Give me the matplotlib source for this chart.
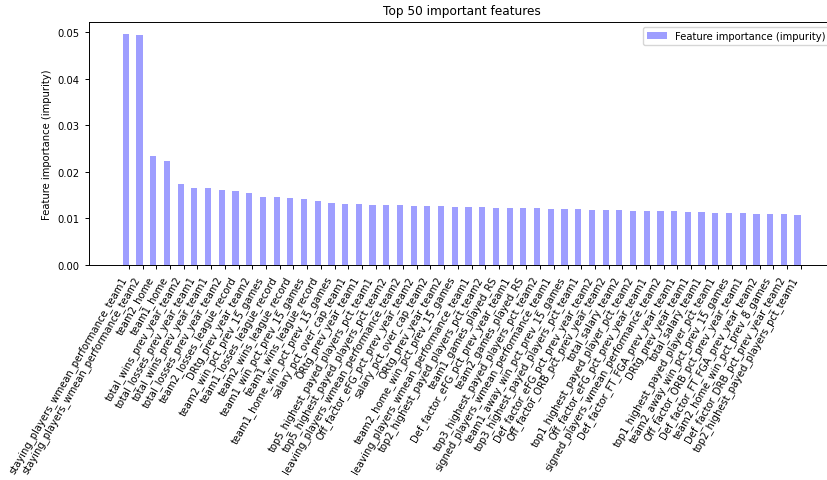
import numpy as np
import matplotlib
matplotlib.use('Agg')
import matplotlib.pyplot as plt

features = [
    'staying_players_wmean_performance_team1',
    'staying_players_wmean_performance_team2',
    'team2_home',
    'team1_home',
    'total_wins_prev_year_team2',
    'total_losses_prev_year_team1',
    'total_wins_prev_year_team1',
    'total_losses_prev_year_team2',
    'team2_losses_league_record',
    'DRtg_prev_year_team2',
    'team2_win_pct_prev_15_games',
    'team1_losses_league_record',
    'team2_wins_league_record',
    'team1_win_pct_prev_15_games',
    'team1_wins_league_record',
    'team1_home_win_pct_prev_15_games',
    'salary_pct_over_cap_team1',
    'ORtg_prev_year_team1',
    'top5_highest_payed_players_pct_team1',
    'top5_highest_payed_players_pct_team2',
    'leaving_players_wmean_performance_team2',
    'Off_factor_eFG_pct_prev_year_team2',
    'salary_pct_over_cap_team2',
    'ORtg_prev_year_team2',
    'team2_home_win_pct_prev_15_games',
    'leaving_players_wmean_performance_team1',
    'top2_highest_payed_players_pct_team2',
    'team1_games_played_RS',
    'Def_factor_eFG_pct_prev_year_team1',
    'team2_games_played_RS',
    'top3_highest_payed_players_pct_team2',
    'signed_players_wmean_performance_team1',
    'team1_away_win_pct_prev_15_games',
    'top3_highest_payed_players_pct_team1',
    'Def_factor_eFG_pct_prev_year_team2',
    'Off_factor_ORB_pct_prev_year_team2',
    'total_salary_team2',
    'top1_highest_payed_player_pct_team2',
    'Off_factor_eFG_pct_prev_year_team1',
    'signed_players_wmean_performance_team2',
    'Def_factor_FT_FGA_prev_year_team1',
    'DRtg_prev_year_team1',
    'total_salary_team1',
    'top1_highest_payed_player_pct_team1',
    'team2_away_win_pct_prev_15_games',
    'Off_factor_ORB_pct_prev_year_team1',
    'Def_factor_FT_FGA_prev_year_team2',
    'team2_home_win_pct_prev_8_games',
    'Def_factor_DRB_pct_prev_year_team2',
    'top2_highest_payed_players_pct_team1',
]

importances = [
    0.0497, 0.0495, 0.0235, 0.0224, 0.0173, 0.01646, 0.01646, 0.0162,
    0.0158, 0.0154, 0.0147, 0.01453, 0.0143, 0.0141, 0.01367, 0.0133,
    0.0131, 0.0131, 0.01288, 0.01288, 0.01288, 0.01266, 0.01266, 0.01266,
    0.01245, 0.01245, 0.01245, 0.01223, 0.01223, 0.01223, 0.01223, 0.0120,
    0.0120, 0.0120, 0.0118, 0.0118, 0.0118, 0.01159, 0.01159, 0.01159,
    0.01159, 0.01137, 0.01137, 0.01116, 0.01116, 0.01116, 0.01094, 0.01094,
    0.01094, 0.01073,
]

plt.rcParams['font.size'] = 7.2
plt.rcParams['axes.linewidth'] = 0.7
plt.rcParams['xtick.major.width'] = 0.7
plt.rcParams['ytick.major.width'] = 0.7
plt.rcParams['xtick.major.size'] = 3
plt.rcParams['ytick.major.size'] = 3

fig = plt.figure(figsize=(8.27, 4.81), dpi=100)
ax = fig.add_axes([0.1074, 0.447, 0.9017, 0.505])

index = np.arange(len(features))
bar_width = 0.45
ax.bar(index, importances, bar_width, color='b', alpha=0.38,
       label='Feature importance (impurity)')
ax.set_xticks(index + bar_width / 2)
ax.set_xticklabels(features, rotation=60, ha='right')
ax.set_ylabel('Feature importance (impurity)')
ax.set_title('Top 50 important features', fontsize=8.7)
ax.legend(loc='upper right')

fig.savefig('out.png', dpi=100)
